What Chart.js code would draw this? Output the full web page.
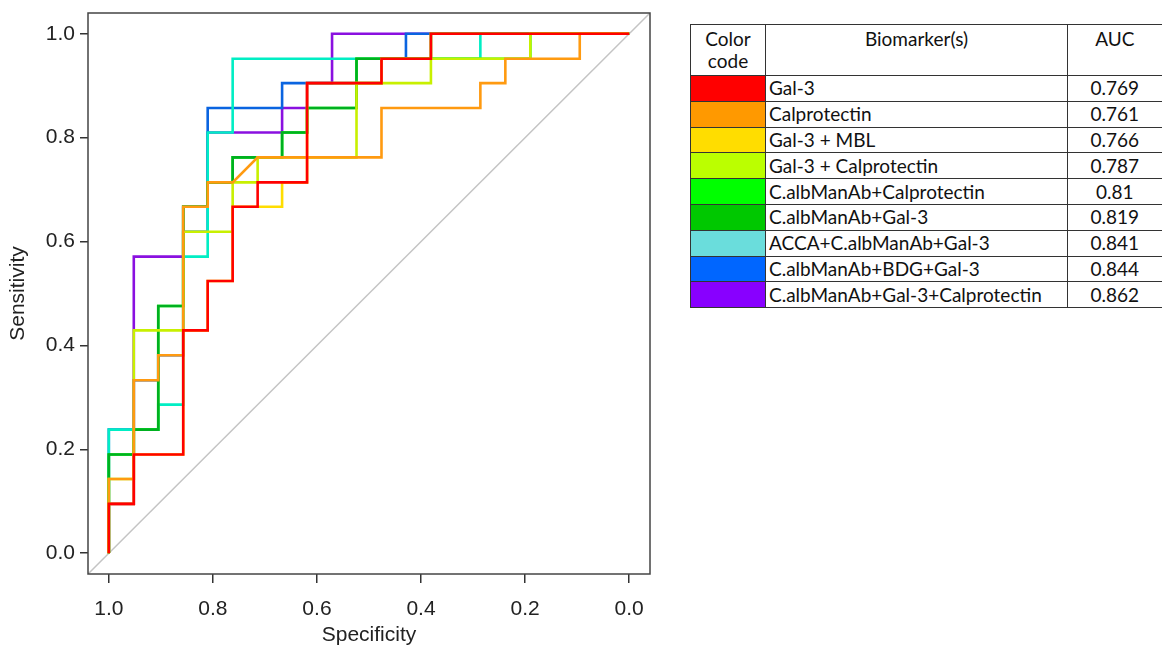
<!DOCTYPE html>
<html>
<head>
<meta charset="utf-8">
<script src="https://cdn.jsdelivr.net/npm/chart.js@4.4.0/dist/chart.umd.min.js"></script>
<style>
  html, body { margin: 0; padding: 0; background: #fff; }
  #page { position: relative; width: 1162px; height: 652px; overflow: hidden; background: #fff; }
  #plot { position: absolute; left: 0; top: 0; width: 660px; height: 652px; }
  #auc { position: absolute; left: 690px; top: 24px; width: 478px; border-collapse: collapse; table-layout: fixed;
         font-family: Lato, "Open Sans", sans-serif; font-size: 19px; color: #111; }
  #auc th, #auc td { border: 1.5px solid #333; padding: 0 3px; font-weight: normal; white-space: nowrap;
                     overflow: hidden; line-height: 22px; }
  #auc tr > *:last-child { border-right: none; }
  #auc th { vertical-align: top; text-align: center; padding-top: 3px; height: 47px; }
  #auc td { height: 24.8px; }
  #auc td.sw { padding: 0; }
  #auc td.num { text-align: center; }
</style>
</head>
<body>
<div id="page">
  <div id="plot"><canvas id="roc"></canvas></div>
  <table id="auc">
    <colgroup><col style="width:75px"><col style="width:302px"><col style="width:101px"></colgroup>
    <thead><tr><th>Color<br>code</th><th>Biomarker(s)</th><th style="padding-right:10px">AUC</th></tr></thead>
    <tbody></tbody>
  </table>
</div>
<script>
// table rows (same order as the legend table)
const biomarkers = ['Gal-3', 'Calprotectin', 'Gal-3 + MBL', 'Gal-3 + Calprotectin',
  'C.albManAb+Calprotectin', 'C.albManAb+Gal-3', 'ACCA+C.albManAb+Gal-3',
  'C.albManAb+BDG+Gal-3', 'C.albManAb+Gal-3+Calprotectin'];
const aucValues = ['0.769', '0.761', '0.766', '0.787', '0.81', '0.819', '0.841', '0.844', '0.862'];
const swatchColors = ['#ff0000', '#ff9900', '#ffdd00', '#bbff00', '#00ff00', '#00c800', '#6adddc', '#0066ff', '#8800ff'];
const lineColors = ['#ff0000', '#ff9a10', '#ffdd00', '#c8f000', '#00ff00', '#00b020', '#00eec4', '#0a64e0', '#8a10e0'];

// ROC points (specificity, sensitivity)
const specGal3 = [1, 1, 0.952, 0.952, 0.857, 0.857, 0.81, 0.81, 0.762, 0.762, 0.714, 0.714, 0.619, 0.619, 0.476, 0.476, 0.381, 0.381, 0];
const sensGal3 = [0, 0.095, 0.095, 0.19, 0.19, 0.429, 0.429, 0.524, 0.524, 0.667, 0.667, 0.714, 0.714, 0.905, 0.905, 0.952, 0.952, 1, 1];

const specCalpro = [1, 1, 0.952, 0.952, 0.905, 0.905, 0.857, 0.857, 0.81, 0.81, 0.762, 0.714, 0.476, 0.476, 0.286, 0.286, 0.238, 0.238, 0.095, 0.095, 0];
const sensCalpro = [0, 0.143, 0.143, 0.333, 0.333, 0.381, 0.381, 0.667, 0.667, 0.714, 0.714, 0.762, 0.762, 0.857, 0.857, 0.905, 0.905, 0.952, 0.952, 1, 1];

const specGalMbl = [1, 1, 0.952, 0.952, 0.857, 0.857, 0.81, 0.81, 0.762, 0.762, 0.667, 0.667, 0.619, 0.619, 0.476, 0.476, 0.381, 0.381, 0];
const sensGalMbl = [0, 0.095, 0.095, 0.19, 0.19, 0.429, 0.429, 0.524, 0.524, 0.667, 0.667, 0.714, 0.714, 0.905, 0.905, 0.952, 0.952, 1, 1];

const specGalCal = [1, 1, 0.952, 0.952, 0.857, 0.857, 0.762, 0.762, 0.714, 0.714, 0.524, 0.524, 0.381, 0.381, 0.19, 0.19, 0];
const sensGalCal = [0, 0.143, 0.143, 0.429, 0.429, 0.619, 0.619, 0.714, 0.714, 0.762, 0.762, 0.905, 0.905, 0.952, 0.952, 1, 1];

const specManCal = [1, 1, 0.952, 0.952, 0.905, 0.905, 0.857, 0.857, 0.81, 0.81, 0.762, 0.762, 0.667, 0.667, 0.619, 0.619, 0.524, 0.524, 0.19, 0.19, 0];
const sensManCal = [0, 0.19, 0.19, 0.238, 0.238, 0.476, 0.476, 0.667, 0.667, 0.714, 0.714, 0.762, 0.762, 0.81, 0.81, 0.857, 0.857, 0.952, 0.952, 1, 1];

const specManGal = [1, 1, 0.952, 0.952, 0.905, 0.905, 0.857, 0.857, 0.81, 0.81, 0.762, 0.762, 0.667, 0.667, 0.619, 0.619, 0.524, 0.524, 0.381, 0.381, 0];
const sensManGal = [0, 0.19, 0.19, 0.238, 0.238, 0.476, 0.476, 0.667, 0.667, 0.714, 0.714, 0.762, 0.762, 0.81, 0.81, 0.857, 0.857, 0.952, 0.952, 1, 1];

const specAcca = [1, 1, 0.905, 0.905, 0.857, 0.857, 0.81, 0.81, 0.762, 0.762, 0.286, 0.286, 0];
const sensAcca = [0, 0.238, 0.238, 0.286, 0.286, 0.571, 0.571, 0.81, 0.81, 0.952, 0.952, 1, 1];

const specBdg = [1, 1, 0.952, 0.952, 0.905, 0.905, 0.857, 0.857, 0.81, 0.81, 0.667, 0.667, 0.476, 0.476, 0.429, 0.429, 0];
const sensBdg = [0, 0.238, 0.238, 0.333, 0.333, 0.381, 0.381, 0.619, 0.619, 0.857, 0.857, 0.905, 0.905, 0.952, 0.952, 1, 1];

const specTriple = [1, 1, 0.952, 0.952, 0.857, 0.857, 0.81, 0.81, 0.667, 0.667, 0.619, 0.619, 0.571, 0.571, 0];
const sensTriple = [0, 0.095, 0.095, 0.571, 0.571, 0.667, 0.667, 0.81, 0.81, 0.857, 0.857, 0.905, 0.905, 1, 1];

const specList = [specGal3, specCalpro, specGalMbl, specGalCal, specManCal, specManGal, specAcca, specBdg, specTriple];
const sensList = [sensGal3, sensCalpro, sensGalMbl, sensGalCal, sensManCal, sensManGal, sensAcca, sensBdg, sensTriple];

const diagSpec = [1.04, -0.04];
const diagSens = [-0.04, 1.04];
const tickValues = [0, 0.2, 0.4, 0.6, 0.8, 1.0];

// lower = drawn on top (dark green over the bright one)
const drawOrder = [0, 1, 2, 3, 5, 4, 6, 7, 8];

// table
const tbody = document.querySelector('#auc tbody');
biomarkers.forEach((name, i) => {
  const tr = document.createElement('tr');
  tr.innerHTML = '<td class="sw" style="background:' + swatchColors[i] + '"></td>' +
    '<td>' + name + '</td><td class="num" style="padding-right:10px">' + aucValues[i] + '</td>';
  tbody.appendChild(tr);
});

// plot
const datasets = biomarkers.map((name, i) => ({
  label: name,
  data: specList[i].map((s, k) => ({ x: s, y: sensList[i][k] })),
  borderColor: lineColors[i],
  borderWidth: 2.6,
  showLine: true,
  pointRadius: 0,
  tension: 0,
  fill: false,
  order: drawOrder[i]
}));
datasets.push({
  label: 'chance',
  data: diagSpec.map((s, k) => ({ x: s, y: diagSens[k] })),
  borderColor: '#c4c4c4',
  borderWidth: 1.5,
  showLine: true,
  pointRadius: 0,
  order: 99
});

const boxPlugin = {
  id: 'box',
  afterDatasetsDraw(chart) {
    const { ctx, chartArea: a } = chart;
    ctx.save();
    ctx.strokeStyle = '#444';
    ctx.lineWidth = 1.5;
    ctx.strokeRect(a.left, a.top, a.right - a.left, a.bottom - a.top);
    ctx.restore();
  }
};

const axisFont = { family: 'Liberation Sans', size: 21 };

new Chart(document.getElementById('roc'), {
  type: 'scatter',
  data: { datasets: datasets },
  options: {
    responsive: true,
    maintainAspectRatio: false,
    animation: false,
    layout: { padding: { top: 13, right: 10, left: 0, bottom: 0 } },
    plugins: { legend: { display: false }, tooltip: { enabled: false } },
    scales: {
      x: {
        type: 'linear', reverse: true, min: -0.04, max: 1.04,
        afterBuildTicks: s => { s.ticks = tickValues.map(v => ({ value: v })); },
        afterFit: s => { s.height = 78; s.paddingLeft = 0; s.paddingRight = 0; },
        grid: { drawOnChartArea: false, tickLength: 9, tickColor: '#333', lineWidth: 1.5 },
        border: { display: false },
        ticks: { font: axisFont, color: '#222', padding: 14, maxRotation: 0, autoSkip: false,
                 callback: v => v.toFixed(1) },
        title: { display: true, text: 'Specificity', font: axisFont, color: '#222', padding: { top: -3 } }
      },
      y: {
        type: 'linear', min: -0.04, max: 1.04,
        afterBuildTicks: s => { s.ticks = tickValues.map(v => ({ value: v })); },
        afterFit: s => { s.width = 88; s.paddingTop = 0; s.paddingBottom = 0; },
        grid: { drawOnChartArea: false, tickLength: 8, tickColor: '#333', lineWidth: 1.5 },
        border: { display: false },
        ticks: { font: axisFont, color: '#222', padding: 5, autoSkip: false,
                 callback: v => v.toFixed(1) },
        title: { display: true, text: 'Sensitivity', font: axisFont, color: '#222', padding: { top: 6 } }
      }
    }
  },
  plugins: [boxPlugin]
});
</script>
</body>
</html>
